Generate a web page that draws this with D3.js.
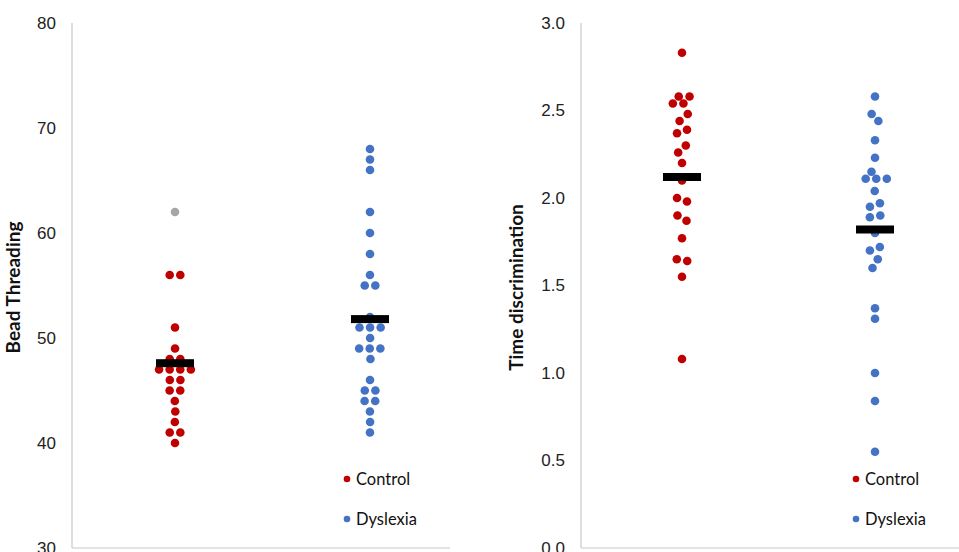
<!DOCTYPE html>
<html>
<head>
<meta charset="utf-8">
<script src="https://cdn.jsdelivr.net/npm/d3@7"></script>
<style>
  body { margin: 0; background: #fff; }
  svg { display: block; font-family: Lato, "Open Sans", sans-serif; }
  .tick text { fill: #222; font-size: 17px; }
</style>
</head>
<body>
<svg id="chart" width="959" height="552"></svg>
<script>
;(function () {
    const groups = ["Control", "Dyslexia"]
    const groupColors = { Control: "#C00000", Dyslexia: "#4472C4" }
    const outlierColor = "#A6A6A6"

    // Bead threading scores
    const beadControl = [56, 56, 51, 49, 48, 48, 47, 47, 47, 47, 46, 46, 45, 45, 44, 43, 42, 41, 41, 40]
    const beadControlOutliers = [62]
    const beadDyslexia = [68, 67, 66, 62, 60, 58, 56, 55, 55, 52, 51, 51, 51, 50, 49, 49, 49, 48, 46, 45, 45, 44, 44, 43, 42, 41]
    const beadMeans = [47.6, 51.8]
    const beadTicks = [30, 40, 50, 60, 70, 80]

    // Time discrimination scores
    const timeControl = [2.83, 2.58, 2.58, 2.54, 2.54, 2.48, 2.44, 2.39, 2.37, 2.30, 2.26, 2.20, 2.10, 2.00, 1.98, 1.90, 1.87, 1.77, 1.65, 1.64, 1.55, 1.08]
    const timeDyslexia = [2.58, 2.48, 2.44, 2.33, 2.23, 2.15, 2.11, 2.11, 2.11, 2.04, 1.97, 1.95, 1.90, 1.89, 1.80, 1.72, 1.70, 1.65, 1.60, 1.37, 1.31, 1.00, 0.84, 0.55]
    const timeMeans = [2.12, 1.82]
    const timeTicks = [0, 0.5, 1.0, 1.5, 2.0, 2.5, 3.0]

    const svg = d3.select("#chart")
    const top = 23
    const bottom = 548
    const r = 4.3

    const panels = [
        {
            title: "Bead Threading",
            axisX: 72, lineEnd: 450, cats: [175, 370], titleX: 20, legendX: 347,
            domain: [30, 80], ticks: beadTicks, fmt: d3.format("d"),
            series: [beadControl, beadDyslexia], outliers: [beadControlOutliers, []],
            means: beadMeans
        },
        {
            title: "Time discrimination",
            axisX: 581, lineEnd: 959, cats: [682, 875], titleX: 523, legendX: 856,
            domain: [0, 3], ticks: timeTicks, fmt: d3.format(".1f"),
            series: [timeControl, timeDyslexia], outliers: [[], []],
            means: timeMeans
        }
    ]

    panels.forEach(function (p) {
        const y = d3.scaleLinear().domain(p.domain).range([bottom, top])
        const x = d3.scalePoint().domain(groups).range(p.cats)

        const g = svg.append("g")

        // axis lines
        g.append("line")
            .attr("x1", p.axisX).attr("x2", p.axisX)
            .attr("y1", top).attr("y2", bottom)
            .attr("stroke", "#C8C8C8").attr("stroke-width", 1.2)
        g.append("line")
            .attr("x1", p.axisX).attr("x2", p.lineEnd)
            .attr("y1", bottom).attr("y2", bottom)
            .attr("stroke", "#C8C8C8").attr("stroke-width", 1.2)

        const yAxis = g.append("g")
            .attr("transform", `translate(${p.axisX},0)`)
            .call(d3.axisLeft(y).tickValues(p.ticks).tickFormat(p.fmt).tickSize(0).tickPadding(16))
        yAxis.select(".domain").remove()

        g.append("text")
            .attr("transform", `translate(${p.titleX},${(top + bottom) / 2 + 2}) rotate(-90)`)
            .attr("text-anchor", "middle")
            .attr("font-size", 19)
            .attr("font-weight", "bold")
            .attr("fill", "#111")
            .text(p.title)

        // swarm points
        groups.forEach(function (grp, i) {
            const nodes = p.series[i].map(v => ({ v, color: groupColors[grp] }))
                .concat(p.outliers[i].map(v => ({ v, color: outlierColor })))
            nodes.forEach(n => { n.x = x(grp); n.y = y(n.v) })

            const sim = d3.forceSimulation(nodes)
                .force("x", d3.forceX(x(grp)).strength(0.05))
                .force("y", d3.forceY(d => y(d.v)).strength(1))
                .force("collide", d3.forceCollide(r + 1))
                .stop()
            for (let k = 0; k < 250; k++) sim.tick()

            g.selectAll(null)
                .data(nodes)
                .join("circle")
                .attr("cx", d => d.x)
                .attr("cy", d => y(d.v))
                .attr("r", r)
                .attr("fill", d => d.color)

            // mean bar
            g.append("rect")
                .attr("x", x(grp) - 19)
                .attr("y", y(p.means[i]) - 4)
                .attr("width", 38)
                .attr("height", 8)
                .attr("fill", "#000")
        })

        // legend
        const legend = g.append("g")
            .selectAll("g")
            .data(groups)
            .join("g")
            .attr("transform", (d, i) => `translate(${p.legendX},${479 + i * 40})`)
        legend.append("circle")
            .attr("r", 3.3)
            .attr("fill", d => groupColors[d])
        legend.append("text")
            .attr("x", 9)
            .attr("y", 5.5)
            .attr("font-size", 16.5)
            .attr("fill", "#111")
            .text(d => d)
    })
})()
</script>
</body>
</html>
